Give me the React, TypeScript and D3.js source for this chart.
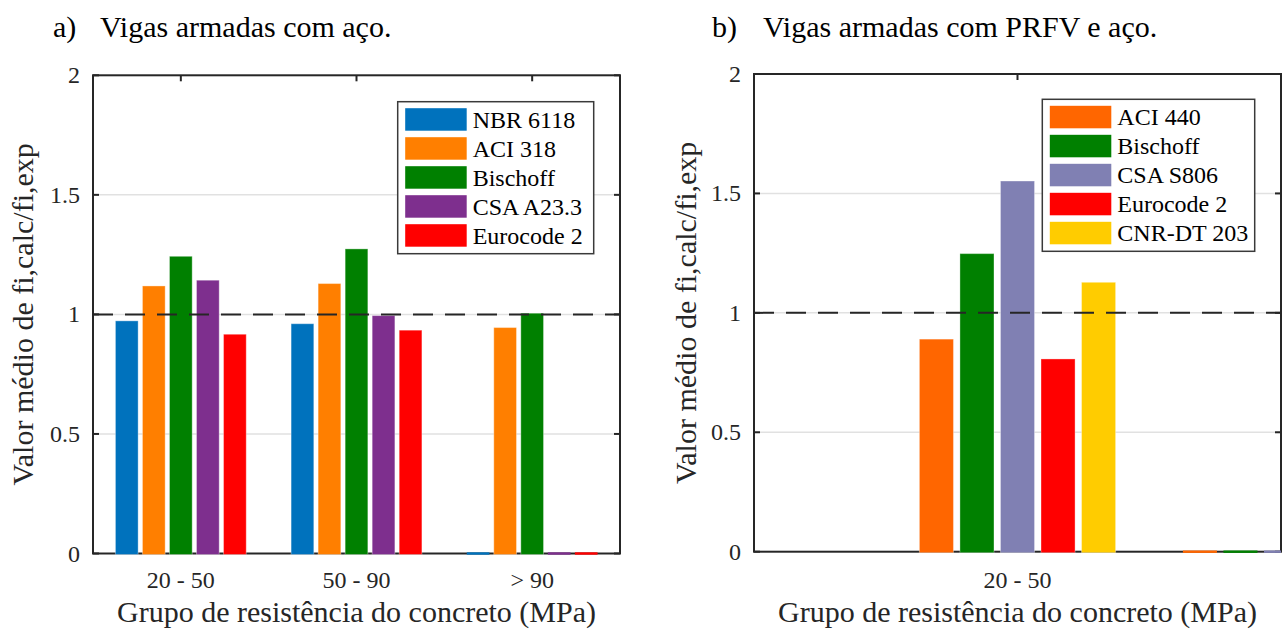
import React from "react";
import * as d3 from "d3";

// ---- Data: panel a) ----
const categoriesA = ["20 - 50", "50 - 90", "> 90"];
const seriesNamesA = ["NBR 6118", "ACI 318", "Bischoff", "CSA A23.3", "Eurocode 2"];
const nbr6118 = [0.973, 0.961, 0];
const aci318 = [1.119, 1.129, 0.945];
const bischoffA = [1.243, 1.274, 1.005];
const csaA233 = [1.143, 0.995, 0];
const eurocodeA = [0.917, 0.934, 0];
const colorsA = ["#0072BD", "#FF7F00", "#008000", "#7E2F8E", "#FF0000"];

// ---- Data: panel b) ----
const categoriesB = ["20 - 50", ""];
const seriesNamesB = ["ACI 440", "Bischoff", "CSA S806", "Eurocode 2", "CNR-DT 203"];
const aci440 = [0.89, 0];
const bischoffB = [1.248, 0];
const csaS806 = [1.552, 0];
const eurocodeB = [0.807, 0];
const cnrDT203 = [1.128, 0];
const colorsB = ["#FF6600", "#008000", "#8080B3", "#FF0000", "#FFCC00"];

const yTicks = [0, 0.5, 1, 1.5, 2];

const FONT = "Liberation Serif, Times New Roman, serif";
const AXC = "#262626";

type PanelProps = {
  id: string;
  left: number;
  right: number;
  top: number;
  bottom: number;
  xDomain: [number, number];
  categories: string[];
  series: number[][];
  names: string[];
  colors: string[];
  legendX: number;
  legendY: number;
  legendW: number;
  tag: string;
  title: string;
  titleX: number;
  titleGap: number;
  yLabelX: number;
};

function T(props: any) {
  const { size, children, ...rest } = props;
  return (
    <text {...rest} style={{ fontFamily: FONT, fontSize: size + "px" }}>
      {children}
    </text>
  );
}

function Panel(p: PanelProps) {
  const x = d3.scaleLinear().domain(p.xDomain).range([p.left, p.right]);
  const y = d3.scaleLinear().domain([0, 2]).range([p.bottom, p.top]);
  const spacing = x(2) - x(1);
  const n = p.series.length;
  const groupW = Math.min(0.8, n / (n + 1.5));
  const step = groupW / n;
  const barW = step * 0.84 * spacing;
  const catPos = p.categories.map((_, i) => i + 1);
  const midX = (p.left + p.right) / 2;
  const midY = (p.top + p.bottom) / 2;
  const tickLen = 6;
  return (
    <g>
      <defs>
        <clipPath id={"clip-" + p.id}>
          <rect x={p.left} y={p.top - 2} width={p.right - p.left} height={p.bottom - p.top + 4} />
        </clipPath>
      </defs>
      {/* title */}
      <T x={p.titleX} y={37} size={30} fill="#000">{p.tag}</T>
      <T x={p.titleX + p.titleGap} y={37} size={30} fill="#000">{p.title}</T>
      {/* grid */}
      {yTicks.filter((t) => t > 0 && t < 2).map((t) => (
        <line key={t} x1={p.left} x2={p.right} y1={y(t)} y2={y(t)} stroke="#e1e1e1" strokeWidth={1.5} />
      ))}
      {/* axes box */}
      <rect x={p.left} y={p.top} width={p.right - p.left} height={p.bottom - p.top} fill="none" stroke={AXC} strokeWidth={2} />
      {/* y ticks */}
      {yTicks.map((t) => (
        <g key={t}>
          <line x1={p.left} x2={p.left + tickLen} y1={y(t)} y2={y(t)} stroke={AXC} strokeWidth={2} />
          <line x1={p.right} x2={p.right - tickLen} y1={y(t)} y2={y(t)} stroke={AXC} strokeWidth={2} />
          <T x={p.left - 13} y={y(t) + 8} textAnchor="end" size={24} fill="#262626">
            {d3.format("~g")(t)}
          </T>
        </g>
      ))}
      {/* x ticks */}
      {catPos.map((c, i) => (
        <g key={i}>
          <line x1={x(c)} x2={x(c)} y1={p.top} y2={p.top + tickLen} stroke={AXC} strokeWidth={2} />
          <line x1={x(c)} x2={x(c)} y1={p.bottom} y2={p.bottom - tickLen} stroke={AXC} strokeWidth={2} />
          <T x={x(c)} y={588} textAnchor="middle" size={24} fill="#262626">
            {p.categories[i]}
          </T>
        </g>
      ))}
      {/* bars */}
      <g clipPath={`url(#clip-${p.id})`}>
        {p.series.map((vals, s) =>
          vals.map((v, i) => {
            const cx = x(catPos[i]) + (s - (n - 1) / 2) * step * spacing;
            const y0 = y(0);
            const yv = y(v);
            const h = Math.max(y0 - yv, 0);
            return h > 0 ? (
              <rect key={s + "-" + i} x={cx - barW / 2} y={yv} width={barW} height={h + 1}
                fill={p.colors[s]} stroke="#ffffff" strokeOpacity={0.35} strokeWidth={1} />
            ) : (
              <rect key={s + "-" + i} x={cx - barW / 2} y={y0 - 1.2} width={barW} height={2.4} fill={p.colors[s]} />
            );
          })
        )}
      </g>
      {/* reference dashed line */}
      <line x1={p.left} x2={p.right} y1={y(1)} y2={y(1)} stroke={AXC} strokeWidth={2} strokeDasharray="20 12" />
      {/* legend */}
      <rect x={p.legendX} y={p.legendY} width={p.legendW} height={p.names.length * 29 + 7}
        fill="#fff" stroke="#3a3a3a" strokeWidth={1.5} />
      {p.names.map((nm, s) => (
        <g key={nm}>
          <rect x={p.legendX + 7.5} y={p.legendY + 6.5 + s * 29} width={61.5} height={22.5} fill={p.colors[s]} />
          <T x={p.legendX + 75} y={p.legendY + 26 + s * 29} size={24} fill="#000">
            {nm}
          </T>
        </g>
      ))}
      {/* axis labels */}
      <T x={midX} y={622} textAnchor="middle" size={30} fill="#262626">
        Grupo de resistência do concreto (MPa)
      </T>
      <T transform={`translate(${p.yLabelX},${midY}) rotate(-90)`} textAnchor="middle" size={30} fill="#262626">
        Valor médio de fi,calc/fi,exp
      </T>
    </g>
  );
}

export default function App() {
  const seriesA = [nbr6118, aci318, bischoffA, csaA233, eurocodeA];
  const seriesB = [aci440, bischoffB, csaS806, eurocodeB, cnrDT203];
  return (
    <svg width={1285} height={633} style={{ position: "absolute", left: 0, top: 0, background: "#fff" }}>
      <rect width={1285} height={633} fill="#fff" />
      <Panel id="a" left={93} right={620} top={75.3} bottom={553.5} xDomain={[0.5, 3.5]}
        categories={categoriesA} series={seriesA} names={seriesNamesA} colors={colorsA}
        legendX={397.7} legendY={101.7} legendW={196} tag="a)" title="Vigas armadas com aço."
        titleX={53} titleGap={47} yLabelX={33} />
      <Panel id="b" left={754} right={1281} top={74} bottom={551.7} xDomain={[0, 2]}
        categories={categoriesB} series={seriesB} names={seriesNamesB} colors={colorsB}
        legendX={1042.3} legendY={99.3} legendW={212.4} tag="b)" title="Vigas armadas com PRFV e aço."
        titleX={712} titleGap={51} yLabelX={696} />
    </svg>
  );
}
